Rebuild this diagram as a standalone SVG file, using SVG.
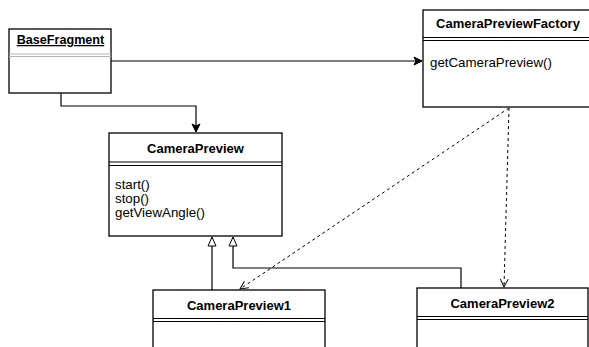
<svg xmlns="http://www.w3.org/2000/svg" width="589" height="347" viewBox="0 0 589 347">
  <style>
    .box { fill: #ffffff; stroke: #000000; stroke-width: 1.3; }
    .sep { stroke: #000000; stroke-width: 1; fill: none; }
    .sep-gray { stroke: #b3b3b3; stroke-width: 1; fill: none; }
    .title { font-family: "Liberation Sans", Arial, sans-serif; font-size: 13px; font-weight: bold; fill: #000000; text-anchor: middle; }
    .member { font-family: "Liberation Sans", Arial, sans-serif; font-size: 13.3px; fill: #000000; }
    .edge { stroke: #000000; stroke-width: 1.2; fill: none; }
    .dashed { stroke: #000000; stroke-width: 1; fill: none; stroke-dasharray: 3 3; }
  </style>
  <defs>
    <marker id="filled" markerWidth="10" markerHeight="10" refX="9" refY="5" orient="auto" markerUnits="userSpaceOnUse">
      <path d="M1,1 L9,5 L1,9 L3,5 Z" fill="#000000" stroke="#000000" stroke-width="1"/>
    </marker>
    <marker id="hollow" markerWidth="12" markerHeight="12" refX="10" refY="6" orient="auto" markerUnits="userSpaceOnUse">
      <path d="M1,2 L10,6 L1,10 Z" fill="#ffffff" stroke="#000000" stroke-width="1"/>
    </marker>
    <marker id="open" markerWidth="10" markerHeight="10" refX="9" refY="5" orient="auto" markerUnits="userSpaceOnUse">
      <path d="M1,1 L9,5 L1,9" fill="none" stroke="#000000" stroke-width="1"/>
    </marker>
  </defs>

  <rect width="589" height="347" fill="#ffffff"/>

  <g id="connectors">
    <path class="edge" d="M111,61 L422,61" marker-end="url(#filled)"/>
    <path class="edge" d="M61,93 L61,106 L196,106 L196,132" marker-end="url(#filled)"/>
    <path class="edge" d="M212,290 L212,237" marker-end="url(#hollow)"/>
    <path class="edge" d="M461,288 L461,268 L233,268 L233,237" marker-end="url(#hollow)"/>
    <path class="dashed" d="M509,108 L240,289" marker-end="url(#open)"/>
    <path class="dashed" d="M509,108 L504,287" marker-end="url(#open)"/>
  </g>

  <g id="BaseFragment">
    <rect class="box" x="9" y="29" width="102" height="64"/>
    <line class="sep-gray" x1="9" y1="54" x2="111" y2="54"/>
    <line class="sep-gray" x1="9" y1="56.5" x2="111" y2="56.5"/>
    <text class="title" x="60.5" y="44" style="font-size:12.6px" text-decoration="underline">BaseFragment</text>
  </g>

  <g id="CameraPreviewFactory">
    <rect class="box" x="423" y="10" width="171" height="97"/>
    <line class="sep" x1="423" y1="37.5" x2="594" y2="37.5"/>
    <line class="sep" x1="423" y1="40.5" x2="594" y2="40.5"/>
    <text class="title" x="508" y="28">CameraPreviewFactory</text>
    <text class="member" x="430" y="66.5">getCameraPreview()</text>
  </g>

  <g id="CameraPreview">
    <rect class="box" x="109" y="133" width="173" height="103"/>
    <line class="sep" x1="109" y1="162" x2="282" y2="162"/>
    <line class="sep" x1="109" y1="165.5" x2="282" y2="165.5"/>
    <text class="title" x="195.5" y="153">CameraPreview</text>
    <text class="member" x="115" y="189">start()</text>
    <text class="member" x="115" y="203">stop()</text>
    <text class="member" x="115" y="217">getViewAngle()</text>
  </g>

  <g id="CameraPreview1">
    <rect class="box" x="153" y="290" width="172" height="70"/>
    <line class="sep" x1="153" y1="318.5" x2="325" y2="318.5"/>
    <line class="sep" x1="153" y1="321.5" x2="325" y2="321.5"/>
    <text class="title" x="239" y="310">CameraPreview1</text>
  </g>

  <g id="CameraPreview2">
    <rect class="box" x="417" y="288" width="171" height="70"/>
    <line class="sep" x1="417" y1="316.5" x2="588" y2="316.5"/>
    <line class="sep" x1="417" y1="319.5" x2="588" y2="319.5"/>
    <text class="title" x="502.5" y="308">CameraPreview2</text>
  </g>
</svg>
